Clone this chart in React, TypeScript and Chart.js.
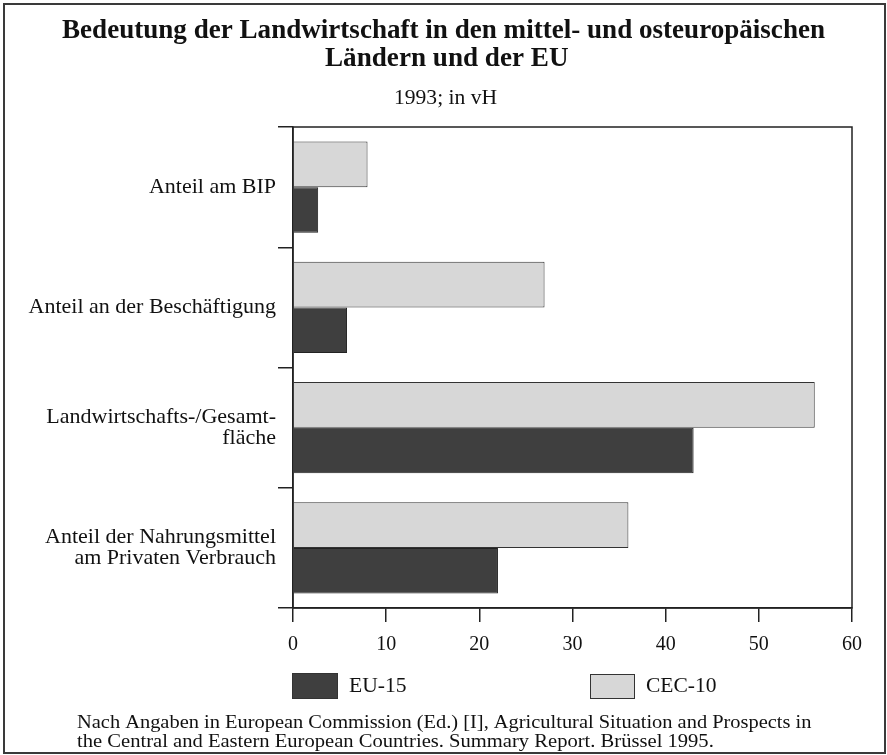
import React, { useEffect, useRef } from "react";
import { Chart, registerables } from "chart.js";

Chart.register(...registerables);

// ---- data ----
const categories: string[][] = [
  ["Anteil am BIP"],
  ["Anteil an der Beschäftigung"],
  ["Landwirtschafts-/Gesamt-", "fläche"],
  ["Anteil der Nahrungsmittel", "am Privaten Verbrauch"],
];
const cec10Values = [8, 27, 56, 36];
const eu15Values = [2.7, 5.8, 43, 22];
const xTickValues = [0, 10, 20, 30, 40, 50, 60];
const seriesNames = ["EU-15", "CEC-10"];
const titleLines = [
  "Bedeutung der Landwirtschaft in den mittel- und osteuropäischen",
  "Ländern und der EU",
];
const subtitleText = "1993; in vH";
const sourceLines = [
  "Nach Angaben in European Commission (Ed.) [I], Agricultural Situation and Prospects in",
  "the Central and Eastern European Countries. Summary Report. Brüssel 1995.",
];

// ---- styles ----
const SERIF = "'Liberation Serif', 'Times New Roman', serif";
const INK = "#111";
const LINE = "#222";
const EU_COLOR = "#3f3f3f";
const CEC_COLOR = "#d7d7d7";
const W = 887;
const H = 755;

function drawFit(
  ctx: CanvasRenderingContext2D,
  text: string,
  left: number,
  width: number,
  baseline: number,
  font: string
) {
  ctx.save();
  ctx.font = font;
  ctx.fillStyle = INK;
  ctx.textAlign = "left";
  ctx.textBaseline = "alphabetic";
  const m = ctx.measureText(text);
  const glyphW = m.actualBoundingBoxRight + m.actualBoundingBoxLeft || m.width;
  const sx = width / glyphW;
  ctx.translate(left, baseline);
  ctx.scale(sx, 1);
  ctx.fillText(text, m.actualBoundingBoxLeft || 0, 0);
  ctx.restore();
}

const overlayPlugin = {
  id: "overlay",
  beforeDraw(chart: any) {
    const ctx = chart.ctx as CanvasRenderingContext2D;
    ctx.save();
    ctx.fillStyle = "#fff";
    ctx.fillRect(0, 0, W, H);
    ctx.restore();
  },
  afterDraw(chart: any) {
    const ctx = chart.ctx as CanvasRenderingContext2D;
    const area = chart.chartArea;
    // frame of the plot
    ctx.save();
    ctx.strokeStyle = LINE;
    ctx.lineWidth = 1.5;
    ctx.strokeRect(area.left, area.top, area.right - area.left, area.bottom - area.top);
    ctx.restore();

    // outer frame
    ctx.save();
    ctx.strokeStyle = "#3a3a3a";
    ctx.lineWidth = 2;
    ctx.strokeRect(4, 4, 881, 749);
    ctx.restore();

    // titles
    drawFit(ctx, titleLines[0], 62, 763, 38, `bold 27px ${SERIF}`);
    drawFit(ctx, titleLines[1], 325, 243, 66, `bold 27px ${SERIF}`);
    drawFit(ctx, subtitleText, 395, 102, 104, `21px ${SERIF}`);

    // legend
    const ds = chart.data.datasets;
    const eu = ds.find((d: any) => d.label === seriesNames[0]);
    const cec = ds.find((d: any) => d.label === seriesNames[1]);
    const boxes = [
      { d: eu, x: 292, y: 673, w: 46, h: 26, tx: 349, tw: 57 },
      { d: cec, x: 590, y: 674, w: 45, h: 25, tx: 646, tw: 70 },
    ];
    boxes.forEach((b) => {
      ctx.save();
      ctx.fillStyle = b.d.backgroundColor;
      ctx.fillRect(b.x, b.y, b.w, b.h);
      ctx.strokeStyle = "#333";
      ctx.lineWidth = 1;
      ctx.strokeRect(b.x + 0.5, b.y + 0.5, b.w - 1, b.h - 1);
      ctx.restore();
      drawFit(ctx, b.d.label, b.tx, b.tw, 692, `21px ${SERIF}`);
    });

    // source
    drawFit(ctx, sourceLines[0], 77, 735, 728, `19px ${SERIF}`);
    drawFit(ctx, sourceLines[1], 77, 636, 747, `19px ${SERIF}`);
  },
};

export default function App() {
  const ref = useRef<HTMLCanvasElement | null>(null);

  useEffect(() => {
    if (!ref.current) return;
    const chart = new Chart(ref.current, {
      type: "bar",
      data: {
        labels: categories,
        datasets: [
          {
            label: seriesNames[1],
            data: cec10Values,
            backgroundColor: CEC_COLOR,
            borderColor: "#333",
            borderWidth: 1,
            categoryPercentage: 0.76,
            barPercentage: 1.0,
          },
          {
            label: seriesNames[0],
            data: eu15Values,
            backgroundColor: EU_COLOR,
            borderColor: "#222",
            borderWidth: 1,
            categoryPercentage: 0.76,
            barPercentage: 1.0,
          },
        ],
      },
      options: {
        indexAxis: "y",
        responsive: false,
        animation: false,
        devicePixelRatio: 1,
        layout: { padding: { top: 127, right: 35, left: 0, bottom: 0 } },
        plugins: {
          legend: { display: false },
          title: { display: false },
          tooltip: { enabled: false },
        },
        scales: {
          x: {
            type: "linear",
            min: 0,
            max: 60,
            afterBuildTicks: (s: any) => {
              s.ticks = xTickValues.map((v) => ({ value: v }));
            },
            afterFit: (s: any) => {
              s.height = H - 608;
            },
            grid: {
              drawOnChartArea: false,
              tickLength: 14,
              color: LINE,
              lineWidth: 1.5,
            },
            border: { color: LINE, width: 1.5 },
            ticks: {
              color: INK,
              padding: 11,
              font: { family: SERIF, size: 20 },
            },
          },
          y: {
            afterFit: (s: any) => {
              s.width = 293;
            },
            grid: {
              offset: true,
              drawOnChartArea: false,
              tickLength: 15,
              color: LINE,
              lineWidth: 1.5,
            },
            border: { color: LINE, width: 1.5 },
            ticks: {
              color: INK,
              padding: 2,
              font: { family: SERIF, size: 22, lineHeight: 0.98 },
            },
          },
        },
      },
      plugins: [overlayPlugin],
    } as any);
    return () => chart.destroy();
  }, []);

  return (
    <div style={{ position: "absolute", left: 0, top: 0, width: W, height: H, background: "#fff" }}>
      <canvas ref={ref} width={W} height={H} style={{ display: "block", width: W, height: H }} />
    </div>
  );
}
